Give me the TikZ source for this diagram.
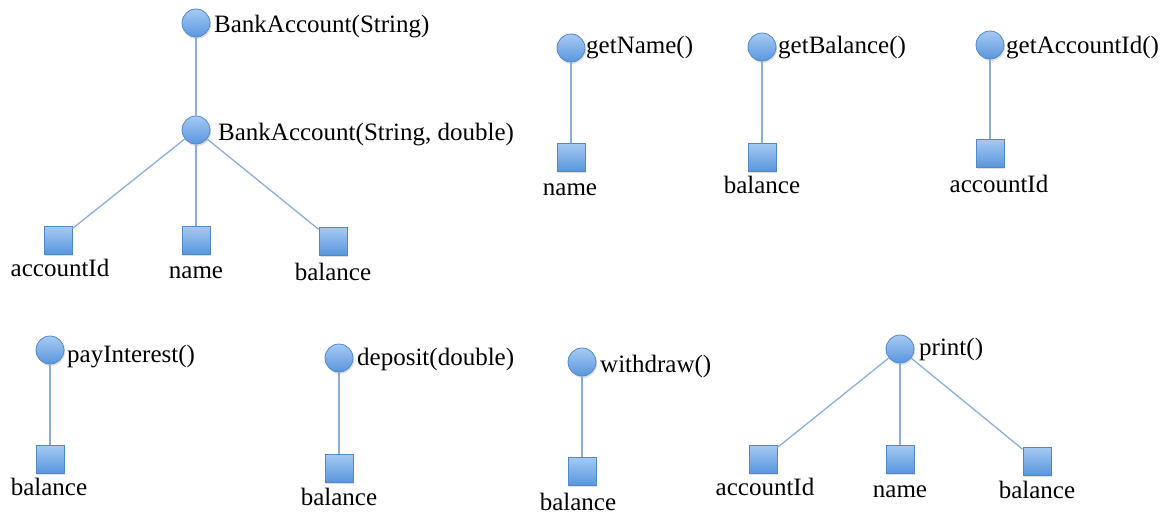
\documentclass[tikz,border=0pt]{standalone}
\usepackage{fontspec}
\setmainfont{Liberation Serif}
\usetikzlibrary{shadows}
\definecolor{nodeedge}{HTML}{4F89CC}
\definecolor{nodetop}{HTML}{A6CAF3}
\definecolor{nodebot}{HTML}{5A96DE}
\definecolor{linkblue}{HTML}{8AAEDB}
\tikzset{
  method/.style={circle, minimum size=28pt, inner sep=0pt, draw=nodeedge, line width=0.8pt,
    top color=nodetop, bottom color=nodebot,
    drop shadow={shadow xshift=1pt, shadow yshift=-2pt, opacity=0.25}},
  field/.style={rectangle, minimum size=28pt, inner sep=0pt, draw=nodeedge, line width=0.8pt,
    top color=nodetop, bottom color=nodebot,
    drop shadow={shadow xshift=1pt, shadow yshift=-2pt, opacity=0.25}},
  mlabel/.style={anchor=base west, inner sep=0pt, font=\fontsize{25}{30}\selectfont},
  flabel/.style={anchor=base, inner sep=0pt, font=\fontsize{25}{30}\selectfont},
  link/.style={draw=linkblue, line width=1.3pt}
}
\begin{document}
\begin{tikzpicture}[x=1pt, y=-1pt]
\useasboundingbox (0,0) rectangle (1173,514);

% constructors
\node[method] (ctor1) at (196,23) {};
\node[mlabel] (ctor1t) at (214,32) {BankAccount(String)};
\node[method] (ctor2) at (196,130) {};
\node[mlabel] (ctor2t) at (218,140) {BankAccount(String, double)};
\node[field] (c2acc) at (58,240) {};
\node[field] (c2name) at (196,240) {};
\node[field] (c2bal) at (333,241) {};
\node[flabel] (c2acct) at (60,276) {accountId};
\node[flabel] (c2namet) at (196,278) {name};
\node[flabel] (c2balt) at (333,280) {balance};
\draw[link] (ctor1) -- (ctor2);
\draw[link] (ctor2) -- (c2acc);
\draw[link] (ctor2) -- (c2name);
\draw[link] (ctor2) -- (c2bal);

% getters
\node[method] (gname) at (571,48) {};
\node[mlabel] (gnamet) at (586,53) {getName()};
\node[field] (gnamef) at (571,157) {};
\node[flabel] (gnameft) at (570,195) {name};
\draw[link] (gname) -- (gnamef);

\node[method] (gbal) at (762,47) {};
\node[mlabel] (gbalt) at (778,53) {getBalance()};
\node[field] (gbalf) at (762,157) {};
\node[flabel] (gbalft) at (762,193) {balance};
\draw[link] (gbal) -- (gbalf);

\node[method] (gacc) at (990,45) {};
\node[mlabel] (gacct) at (1006,53) {getAccountId()};
\node[field] (gaccf) at (990,153) {};
\node[flabel] (gaccft) at (999,192) {accountId};
\draw[link] (gacc) -- (gaccf);

% mutators
\node[method] (pay) at (50,350) {};
\node[mlabel] (payt) at (67,362) {payInterest()};
\node[field] (payf) at (50,459) {};
\node[flabel] (payft) at (49,495) {balance};
\draw[link] (pay) -- (payf);

\node[method] (dep) at (339,358) {};
\node[mlabel] (dept) at (357,365) {deposit(double)};
\node[field] (depf) at (339,468) {};
\node[flabel] (depft) at (339,505) {balance};
\draw[link] (dep) -- (depf);

\node[method] (wd) at (582,362) {};
\node[mlabel] (wdt) at (600,372) {withdraw()};
\node[field] (wdf) at (582,471) {};
\node[flabel] (wdft) at (578,510) {balance};
\draw[link] (wd) -- (wdf);

% print
\node[method] (pr) at (900,349) {};
\node[mlabel] (prt) at (919,355) {print()};
\node[field] (pracc) at (763,459) {};
\node[field] (prname) at (900,459) {};
\node[field] (prbal) at (1037,461) {};
\node[flabel] (pracct) at (765,495) {accountId};
\node[flabel] (prnamet) at (900,497) {name};
\node[flabel] (prbalt) at (1037,498) {balance};
\draw[link] (pr) -- (pracc);
\draw[link] (pr) -- (prname);
\draw[link] (pr) -- (prbal);
\end{tikzpicture}
\end{document}
